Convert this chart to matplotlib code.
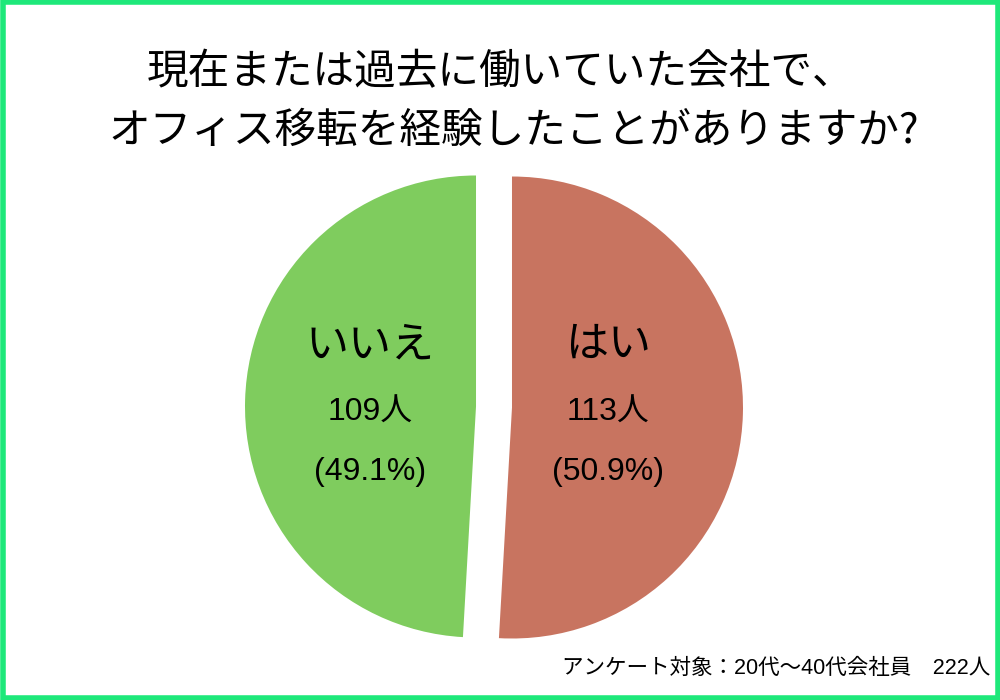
import matplotlib
matplotlib.use("Agg")
import matplotlib.pyplot as plt
from matplotlib.patches import Rectangle

plt.rcParams['font.family'] = ['Noto Sans CJK JP', 'DejaVu Sans']
mixed = ['Liberation Sans', 'Noto Sans CJK JP']

# data
labels = ['はい', 'いいえ']
counts = [113, 109]
percents = [50.9, 49.1]
colors = ['#C87460', '#7FCC5E']
title_lines = ['現在または過去に働いていた会社で、', 'オフィス移転を経験したことがありますか?']
note = 'アンケート対象：20代〜40代会社員　222人'

fig = plt.figure(figsize=(10, 7), dpi=100)
ax = fig.add_axes([0, 0, 1, 1])

# pie in pixel coords (y up), clockwise from top, explode in pixels
ax.pie(counts, colors=colors, startangle=90, counterclock=False,
       center=(494, 293), radius=231, explode=[18, 18],
       wedgeprops=dict(linewidth=0))
ax.set_xlim(0, 1000)
ax.set_ylim(0, 700)
ax.set_aspect('equal')
ax.axis('off')

label_x = [608, 370]
for i in range(2):
    ax.text(label_x[i], 700 - 345, labels[i], fontsize=31, ha='center', va='center')
    ax.text(label_x[i], 700 - 413, f'{counts[i]}人', fontsize=23, ha='center',
            va='center', family=mixed)
    ax.text(label_x[i], 700 - 472, f'({percents[i]}%)', fontsize=23, ha='center',
            va='center', family=mixed)

ax.text(501, 700 - 73, title_lines[0], fontsize=30, ha='center', va='center')
ax.text(514, 700 - 131, title_lines[1], fontsize=30, ha='center', va='center',
        family=['Noto Sans CJK JP', 'DejaVu Sans'])
ax.text(990, 700 - 668, note, fontsize=15.5, ha='right', va='center', family=mixed)

# green frame
fig.patches.append(Rectangle((0.0025, 0.0035), 0.995, 0.993, transform=fig.transFigure,
                             fill=False, edgecolor='#1EE87A', linewidth=4))

fig.savefig('out.png', dpi=100)
